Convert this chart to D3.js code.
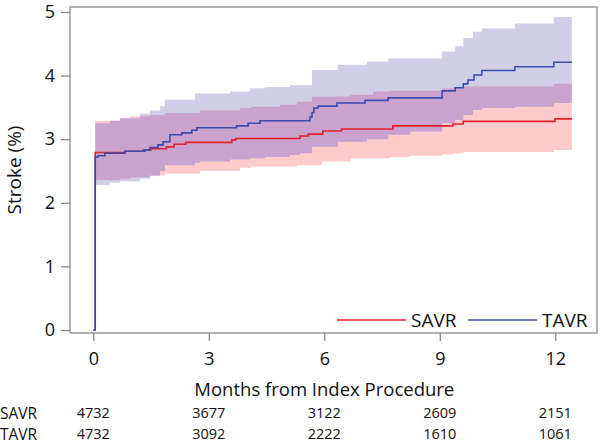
<!DOCTYPE html>
<html>
<head>
<meta charset="utf-8">
<script src="https://cdn.jsdelivr.net/npm/d3@7"></script>
<style>
  body { margin: 0; background: #fff; }
  svg { display: block; font-family: "Open Sans", sans-serif; }
</style>
</head>
<body>
<svg id="chart" width="604" height="446"></svg>
<script>
// step curves: [month, stroke %]
var savrCurve = [[0,0],[0.05,2.79],[0.83,2.81],[1.3,2.83],[1.5,2.85],[1.9,2.88],[2.1,2.92],[2.4,2.95],
  [3.6,2.99],[3.7,3.01],[5.37,3.05],[5.58,3.08],[5.96,3.13],[6.45,3.16],[7.78,3.21],[9.34,3.24],
  [9.61,3.28],[11.99,3.32],[12.43,3.32]];
var tavrCurve = [[0,0],[0.05,2.72],[0.12,2.74],[0.3,2.78],[0.82,2.81],[1.34,2.83],[1.47,2.87],[1.68,2.91],
  [1.81,2.96],[1.99,3.07],[2.30,3.10],[2.56,3.14],[2.69,3.18],[3.72,3.21],[4.02,3.25],[4.33,3.29],
  [5.63,3.35],[5.68,3.42],[5.73,3.49],[5.84,3.52],[6.33,3.57],[7.06,3.61],[7.66,3.65],[9.06,3.76],
  [9.40,3.81],[9.61,3.87],[9.73,3.93],[9.89,4.01],[10.09,4.08],[10.95,4.14],[11.96,4.21],[12.43,4.21]];

// confidence bands: [month, lower, upper]
var savrBand = [[0.05,2.36,3.29],[0.69,2.38,3.33],[0.95,2.40,3.36],[1.47,2.43,3.38],[1.86,2.46,3.41],
  [2.77,2.50,3.45],[3.81,2.55,3.49],[4.10,2.57,3.51],[4.85,2.57,3.54],[5.29,2.59,3.59],[5.68,2.59,3.67],
  [5.94,2.65,3.67],[6.67,2.70,3.70],[7.27,2.70,3.75],[7.71,2.72,3.76],[8.23,2.74,3.76],[9.06,2.76,3.80],
  [9.34,2.78,3.80],[9.61,2.80,3.83],[11.96,2.83,3.87],[12.43,2.83,3.87]];
var tavrBand = [[0.05,2.28,3.25],[0.43,2.32,3.29],[0.69,2.34,3.33],[1.21,2.38,3.40],[1.47,2.42,3.45],
  [1.73,2.50,3.52],[1.86,2.59,3.62],[2.64,2.63,3.72],[2.77,2.65,3.72],[3.55,2.68,3.75],[4.07,2.70,3.80],
  [4.46,2.72,3.82],[5.11,2.75,3.85],[5.37,2.78,3.85],[5.68,2.88,4.09],[6.35,2.96,4.17],[7.11,3.00,4.22],
  [7.66,3.07,4.27],[8.23,3.12,4.27],[9.06,3.25,4.38],[9.40,3.30,4.46],[9.61,3.38,4.59],[9.86,3.46,4.69],
  [10.09,3.49,4.74],[10.95,3.51,4.82],[11.96,3.57,4.92],[12.43,3.57,4.92]];

var monthTicks = [0, 3, 6, 9, 12];
var strokeTicks = [0, 1, 2, 3, 4, 5];
var savrAtRisk = [4732, 3677, 3122, 2609, 2151];
var tavrAtRisk = [4732, 3092, 2222, 1610, 1061];

var svg = d3.select('#chart');

var x = d3.scaleLinear().domain([0, 12]).range([93.3, 555.3]);
var y = d3.scaleLinear().domain([0, 5]).range([330, 12]);

var frame = {left: 70, top: 7, right: 597, bottom: 333};

var bandArea = d3.area()
  .curve(d3.curveStepAfter)
  .x(function(d) { return x(d[0]); })
  .y0(function(d) { return y(d[1]); })
  .y1(function(d) { return y(d[2]); });

var stepLine = d3.line()
  .curve(d3.curveStepAfter)
  .x(function(d) { return x(d[0]); })
  .y(function(d) { return y(d[1]); });

// overlap of the two bands drawn via clip path
svg.append('clipPath').attr('id', 'tavrClip')
  .append('path').attr('d', bandArea(tavrBand));

svg.append('path').attr('d', bandArea(savrBand)).attr('fill', '#fdcbcb');
svg.append('path').attr('d', bandArea(tavrBand)).attr('fill', '#d1cee8');
svg.append('path').attr('d', bandArea(savrBand)).attr('fill', '#c9a3cd')
  .attr('clip-path', 'url(#tavrClip)');

svg.append('path').attr('d', stepLine(savrCurve))
  .attr('fill', 'none').attr('stroke', '#e3212b').attr('stroke-width', 1.6);
svg.append('path').attr('d', stepLine(tavrCurve))
  .attr('fill', 'none').attr('stroke', '#3a4cae').attr('stroke-width', 1.6);

// frame
svg.append('rect')
  .attr('x', frame.left).attr('y', frame.top)
  .attr('width', frame.right - frame.left).attr('height', frame.bottom - frame.top)
  .attr('fill', 'none').attr('stroke', '#8a8a8a').attr('stroke-width', 1.3);

// axes
var xAxis = svg.append('g')
  .attr('transform', 'translate(0,' + frame.bottom + ')')
  .call(d3.axisBottom(x).tickValues(monthTicks).tickSize(8).tickSizeOuter(0).tickPadding(11)
    .tickFormat(d3.format('d')));
var yAxis = svg.append('g')
  .attr('transform', 'translate(' + frame.left + ',0)')
  .call(d3.axisLeft(y).tickValues(strokeTicks).tickSize(9).tickSizeOuter(0).tickPadding(6)
    .tickFormat(d3.format('d')));

[xAxis, yAxis].forEach(function(g) {
  g.select('.domain').remove();
  g.selectAll('.tick line').attr('stroke', '#8a8a8a').attr('stroke-width', 1.3);
  g.selectAll('.tick text').attr('fill', '#111').style('font-size', '18px')
    .style('font-family', '"Open Sans", sans-serif');
});

svg.append('text')
  .attr('x', (x(0) + x(12)) / 2).attr('y', 396)
  .attr('text-anchor', 'middle').style('font-size', '18.5px').attr('fill', '#111')
  .text('Months from Index Procedure');

svg.append('text')
  .attr('transform', 'translate(21,170) rotate(-90)')
  .attr('text-anchor', 'middle').style('font-size', '19px').attr('fill', '#111')
  .text('Stroke (%)');

// legend
var legend = [
  {name: 'SAVR', color: '#e3212b', x0: 337},
  {name: 'TAVR', color: '#3a4cae', x0: 468}
];
legend.forEach(function(l) {
  svg.append('line')
    .attr('x1', l.x0).attr('x2', l.x0 + 69).attr('y1', 320).attr('y2', 320)
    .attr('stroke', l.color).attr('stroke-width', 1.6);
  svg.append('text')
    .attr('x', l.x0 + 74).attr('y', 326.5).style('font-size', '19px').attr('fill', '#111')
    .text(l.name);
});

// numbers at risk
var rows = [
  {name: 'SAVR', values: savrAtRisk, y: 418},
  {name: 'TAVR', values: tavrAtRisk, y: 439}
];
rows.forEach(function(r) {
  svg.append('text').attr('x', 0).attr('y', r.y + 1)
    .style('font-size', '15.5px').attr('fill', '#111').text(r.name);
  svg.selectAll(null).data(r.values).enter().append('text')
    .attr('x', function(d, i) { return x(monthTicks[i]); })
    .attr('y', r.y)
    .attr('text-anchor', 'middle').style('font-size', '14.5px').attr('fill', '#111')
    .text(function(d) { return d; });
});
</script>
</body>
</html>
